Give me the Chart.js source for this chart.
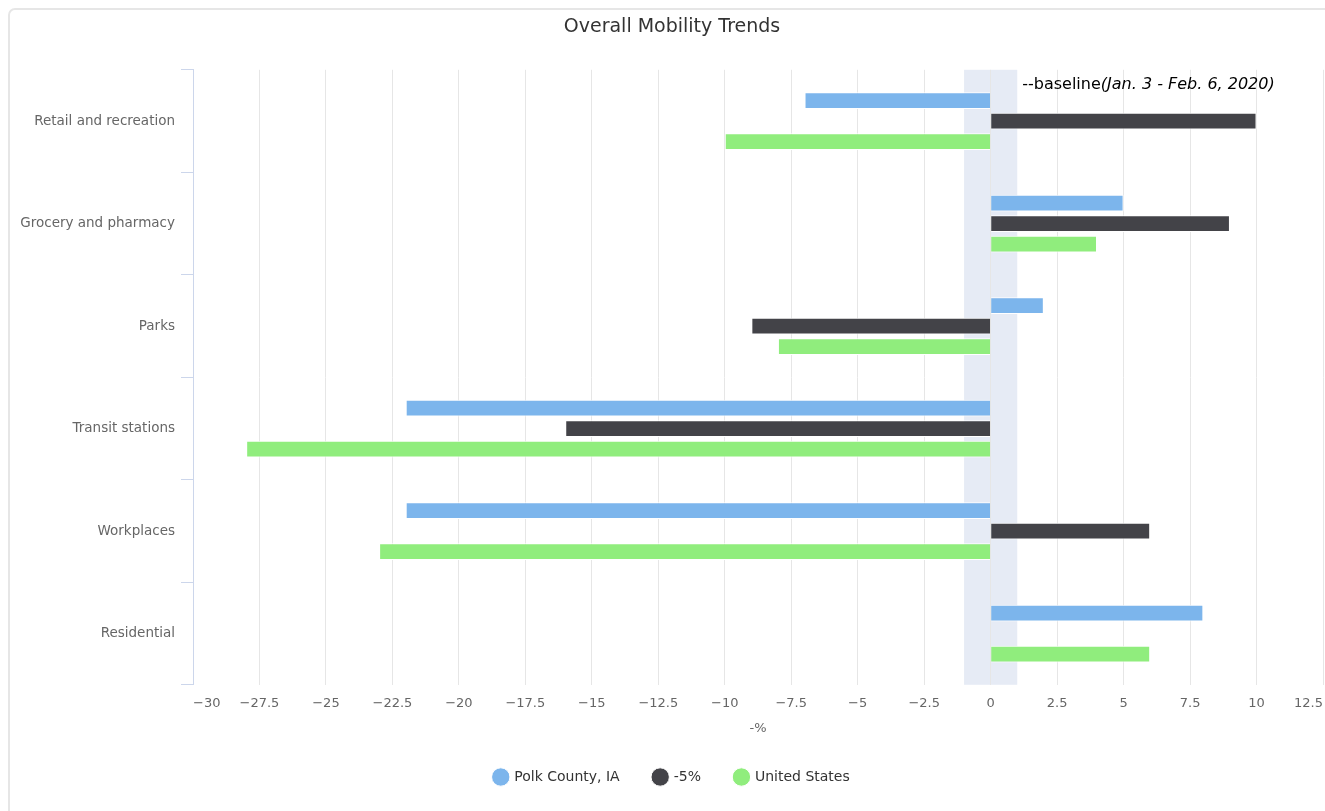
<!DOCTYPE html>
<html>
<head>
<meta charset="utf-8">
<script src="https://cdn.jsdelivr.net/npm/chart.js@4/dist/chart.umd.min.js"></script>
<style>
  html, body { margin: 0; padding: 0; background: #fff; overflow: hidden; }
  .card {
    position: absolute; left: 8px; top: 8px; width: 1360px; height: 840px;
    border: 2px solid #e6e6e6; border-radius: 7px; box-sizing: border-box;
  }
  #chart { position: absolute; left: 0; top: 0; }
</style>
</head>
<body>
<div class="card"></div>
<canvas id="chart" width="1344" height="811"></canvas>
<script>
// categories and series values (percent change from baseline)
var categories = ['Retail and recreation', 'Grocery and pharmacy', 'Parks', 'Transit stations', 'Workplaces', 'Residential'];
var polkCounty = [-7, 5, 2, -22, -22, 8];
var minusFive = [10, 9, -9, -16, 6, null];
var unitedStates = [-10, 4, -8, -28, -23, 6];
var seriesNames = ['Polk County, IA', '-5%', 'United States'];
var xMin = -30, xMax = 12.5, xStep = 2.5;
var baselineFrom = -1, baselineTo = 1;

var font = '"DejaVu Sans", Verdana, sans-serif';

// light band around zero plus its label, drawn under the grid
var baselineBand = {
  id: 'baselineBand',
  beforeDraw: function (chart) {
    var x = chart.scales.x;
    var area = chart.chartArea;
    var c = chart.ctx;
    var x1 = x.getPixelForValue(baselineFrom);
    var x2 = x.getPixelForValue(baselineTo);
    c.save();
    c.fillStyle = '#e6ebf5';
    c.fillRect(x1, area.top, x2 - x1, area.bottom - area.top);
    c.restore();
  },
  afterDatasetsDraw: function (chart) {
    var x = chart.scales.x;
    var area = chart.chartArea;
    var c = chart.ctx;
    var px = x.getPixelForValue(baselineTo) + 5;
    var py = area.top + 15;
    c.save();
    c.fillStyle = '#000';
    c.textBaseline = 'middle';
    c.font = '16px ' + font;
    c.fillText('--baseline', px, py);
    var w = c.measureText('--baseline').width;
    c.font = 'italic 16px ' + font;
    c.fillText('(Jan. 3 - Feb. 6, 2020)', px + w, py);
    c.restore();
  }
};

var ctx = document.getElementById('chart').getContext('2d');
var mobilityChart = new Chart(ctx, {
  type: 'bar',
  data: {
    labels: categories,
    datasets: [
      { label: seriesNames[0], data: polkCounty, backgroundColor: '#7cb5ec' },
      { label: seriesNames[1], data: minusFive, backgroundColor: '#434348' },
      { label: seriesNames[2], data: unitedStates, backgroundColor: '#90ed7d' }
    ]
  },
  options: {
    responsive: false,
    animation: false,
    indexAxis: 'y',
    devicePixelRatio: 1,
    layout: { padding: { left: 21, right: 21, top: 0, bottom: 17 } },
    datasets: {
      bar: {
        borderColor: '#ffffff',
        borderWidth: 1,
        categoryPercentage: 0.6,
        barPercentage: 0.82
      }
    },
    scales: {
      x: {
        type: 'linear',
        min: xMin,
        max: xMax,
        grid: { color: '#e6e6e6', drawTicks: false },
        border: { display: false },
        ticks: {
          stepSize: xStep,
          align: 'inner',
          padding: 11,
          color: '#666666',
          font: { family: font, size: 13 },
          callback: function (v) { return String(v).replace('-', '\u2212'); }
        },
        title: {
          display: true,
          text: '-%',
          color: '#666666',
          font: { family: font, size: 13 },
          padding: { top: 0, bottom: 0 }
        },
        afterFit: function (scale) { scale.height = scale.height - 2; }
      },
      y: {
        type: 'category',
        grid: {
          offset: true,
          drawOnChartArea: false,
          drawTicks: true,
          tickLength: 12,
          color: '#ccd6eb'
        },
        border: { display: true, color: '#ccd6eb' },
        ticks: {
          padding: 6,
          color: '#666666',
          font: { family: font, size: 13.5 }
        },
        afterFit: function (scale) { scale.width = 172; }
      }
    },
    plugins: {
      title: {
        display: true,
        text: 'Overall Mobility Trends',
        color: '#333333',
        font: { family: font, size: 19, weight: 'normal' },
        padding: { top: 16, bottom: 31 }
      },
      legend: {
        position: 'bottom',
        labels: {
          usePointStyle: true,
          pointStyle: 'circle',
          boxWidth: 13,
          boxHeight: 13,
          padding: 34,
          color: '#333333',
          font: { family: font, size: 14 }
        }
      },
      tooltip: { enabled: false }
    }
  },
  plugins: [baselineBand]
});
</script>
</body>
</html>
